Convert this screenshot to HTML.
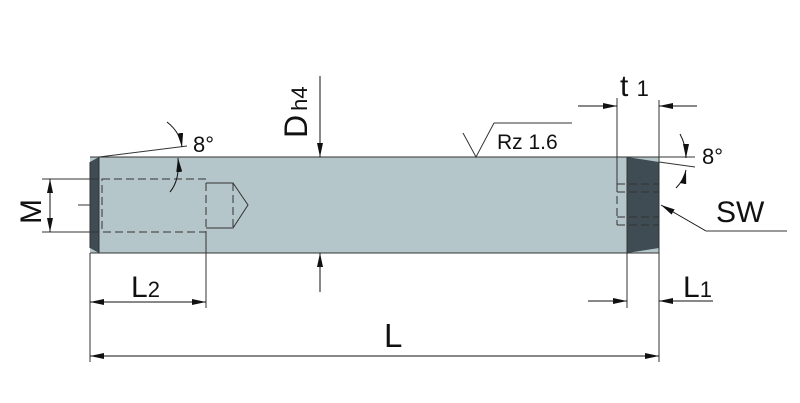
<!DOCTYPE html>
<html><head><style>html,body{margin:0;padding:0;background:#fff}svg{display:block}</style></head><body>
<svg width="800" height="403" viewBox="0 0 800 403" xmlns="http://www.w3.org/2000/svg" font-family="Liberation Sans, sans-serif">
<defs><marker id="a" viewBox="0 0 14 6" refX="14" refY="3" markerWidth="14" markerHeight="6" orient="auto" markerUnits="userSpaceOnUse"><path d="M0,0L14,3L0,6z" fill="#111"/></marker></defs>
<rect x="90" y="157" width="569" height="96" fill="#b4c6c9"/>
<polygon points="90,162 99,157 99,253 90,248" fill="#3f4c54"/>
<polygon points="627,157 659,162 659,248 627,253" fill="#3f4c54"/>
<g stroke="#333" stroke-width="1" fill="none">
<line x1="90" y1="157" x2="659" y2="157"/><line x1="90" y1="253" x2="659" y2="253"/>
<line x1="90" y1="162" x2="90" y2="248"/><line x1="99" y1="157" x2="99" y2="253"/>
<line x1="627" y1="157" x2="627" y2="253"/>
<g stroke-dasharray="8,4"><rect x="102" y="179" width="104" height="53"/><line x1="233" y1="183" x2="233" y2="228"/>
<line x1="617" y1="184" x2="659" y2="184"/><line x1="617" y1="192" x2="659" y2="192"/><line x1="617" y1="217" x2="659" y2="217"/><line x1="617" y1="225" x2="659" y2="225"/><line x1="617" y1="184" x2="617" y2="225"/></g>
<polyline points="206,183 233,183 248,205 233,228 206,228"/>
<line x1="42" y1="179" x2="99" y2="179"/><line x1="42" y1="232" x2="99" y2="232"/>
<line x1="78" y1="205" x2="90" y2="205"/>
<line x1="90" y1="253" x2="90" y2="362"/><line x1="206" y1="232" x2="206" y2="308"/>
<line x1="659" y1="100" x2="659" y2="362"/><line x1="617" y1="98" x2="617" y2="184"/><line x1="627" y1="253" x2="627" y2="308"/>
<line x1="99" y1="157" x2="187" y2="146"/>
<line x1="659" y1="162" x2="695" y2="167"/><line x1="627" y1="157" x2="695" y2="157"/>
<polyline points="706,231 787,231"/>
<line x1="494" y1="123" x2="572" y2="123"/>
<polyline points="463,133 476,157 494,123"/>
</g>
<g stroke="#111" stroke-width="1" fill="none" marker-end="url(#a)">
<line x1="50" y1="205" x2="50" y2="179"/><line x1="50" y1="205" x2="50" y2="232"/>
<line x1="148" y1="302" x2="90" y2="302"/><line x1="148" y1="302" x2="206" y2="302"/>
<line x1="375" y1="356" x2="90" y2="356"/><line x1="375" y1="356" x2="659" y2="356"/>
<line x1="320" y1="76" x2="320" y2="157"/><line x1="320" y1="292" x2="320" y2="253"/>
<line x1="578" y1="106" x2="617" y2="106"/><line x1="697" y1="106" x2="659" y2="106"/>
<line x1="588" y1="301" x2="627" y2="301"/><line x1="713" y1="301" x2="659" y2="301"/>
<line x1="706" y1="231" x2="661" y2="205"/>
<path d="M167,122 Q180,132 182,147"/><path d="M170,192 Q180,180 178,158"/>
<path d="M680,134 Q686,145 686,158"/><path d="M676,188 Q684,180 686,170"/>
</g>
<g fill="#111">
<text x="131" y="297" font-size="30">L<tspan font-size="22">2</tspan></text>
<text x="384" y="347" font-size="33">L</text>
<text x="683" y="297" font-size="30">L<tspan font-size="22">1</tspan></text>
<text x="620" y="96" font-size="30">t <tspan font-size="22">1</tspan></text>
<text x="716" y="222" font-size="30">SW</text>
<text x="193" y="152" font-size="22">8°</text>
<text x="702" y="164" font-size="22">8°</text>
<text x="497" y="149" font-size="21">Rz 1.6</text>
<text transform="translate(307,138) rotate(-90)" font-size="32">D<tspan font-size="22" dx="4">h4</tspan></text>
<text transform="translate(41,224) rotate(-90)" font-size="30">M</text>
</g>
</svg>
</body></html>
